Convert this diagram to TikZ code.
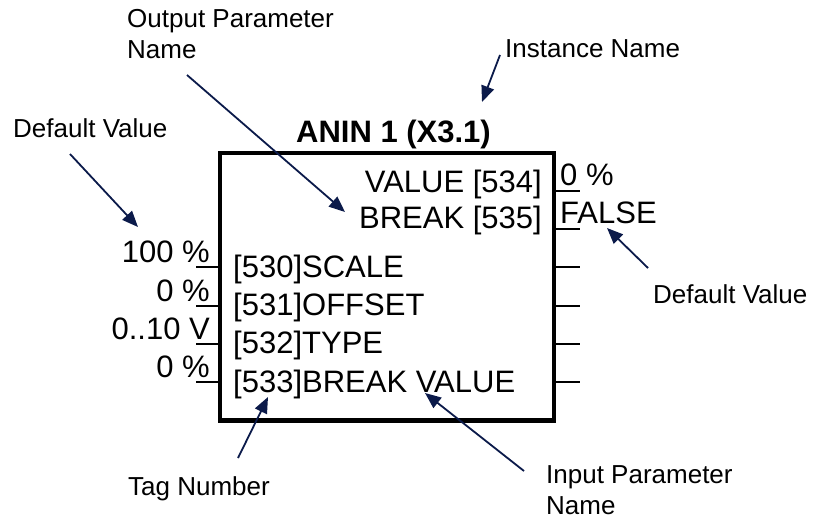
\documentclass[tikz,border=0pt]{standalone}
\usepackage{fontspec}
\setmainfont{Liberation Sans}
\usetikzlibrary{arrows.meta,positioning}
\definecolor{navy}{HTML}{0B1A4A}

\begin{document}
\begin{tikzpicture}[x=1pt,y=-1pt,
  blk/.style={draw,line width=4.5pt,minimum width=334pt,minimum height=267.5pt,inner sep=0pt},
  txt/.style={inner sep=0pt,font=\fontsize{31}{37}\selectfont},
  ttl/.style={inner sep=0pt,font=\fontsize{31}{37}\selectfont\bfseries},
  ann/.style={inner sep=0pt,align=left,font=\fontsize{26}{31}\selectfont},
  pin/.style={line width=1.8pt},
  arr/.style={-{Triangle[length=16pt,width=13pt]},draw=navy,line width=1.8pt}
]
\useasboundingbox (0,0) rectangle (829,519);

% block
\node[blk] (anin) at (387,286.75) {};
\node[ttl,anchor=base] (title) at (393.5,142) {ANIN 1 (X3.1)};
\foreach \y in {267,306,344,382} {
  \draw[pin] (anin.west |- 0,\y) -- ++(-22,0);
  \draw[pin] (anin.east |- 0,\y) -- ++(24,0);
}
\foreach \y in {191,229} \draw[pin] (anin.east |- 0,\y) -- ++(24,0);

% outputs
\node[txt,anchor=base east] (val) at (542,192) {VALUE [534]};
\node[txt,anchor=base east] (brk) at (542,228) {BREAK [535]};
\node[txt,anchor=base west] (dval) at (560,185) {0 \%};
\node[txt,anchor=base west] (dbrk) at (560,223) {FALSE};

% inputs
\node[txt,anchor=base west] (scl) at (233,277) {[530]SCALE};
\node[txt,anchor=base west] (off) at (233,315) {[531]OFFSET};
\node[txt,anchor=base west] (typ) at (233,353) {[532]TYPE};
\node[txt,anchor=base west] (bkv) at (233,392) {[533]BREAK VALUE};
\node[txt,anchor=base east] (dscl) at (210,262) {100 \%};
\node[txt,anchor=base east] (doff) at (210,301) {0 \%};
\node[txt,anchor=base east] (dtyp) at (210,339) {0..10 V};
\node[txt,anchor=base east] (dbkv) at (210,377) {0 \%};

% notes (base = last line)
\node[ann,anchor=base west] (opn) at (127,59) {Output Parameter\\Name};
\node[ann,anchor=base west] (inst) at (505,58) {Instance Name};
\node[ann,anchor=base west] (defl) at (13,137) {Default Value};
\node[ann,anchor=base west] (defr) at (653,303) {Default Value};
\node[ann,anchor=base west] (tag) at (128,495) {Tag Number};
\node[ann,anchor=base west] (ipn) at (546,514) {Input Parameter\\Name};

\coordinate (opnA) at (187,75);   \coordinate (opnB) at (345,212);
\coordinate (defA) at (70,154);   \coordinate (defB) at (138,227);
\coordinate (insA) at (500,55);   \coordinate (insB) at (482,102);
\coordinate (dfrA) at (648,268);  \coordinate (dfrB) at (607,228);
\coordinate (tagA) at (238,458);  \coordinate (tagB) at (268,397);
\coordinate (ipnA) at (524,471);  \coordinate (ipnB) at (425,393);

\draw[arr] (opnA) -- (opnB);
\draw[arr] (defA) -- (defB);
\draw[arr] (insA) -- (insB);
\draw[arr] (dfrA) -- (dfrB);
\draw[arr] (tagA) -- (tagB);
\draw[arr] (ipnA) -- (ipnB);
\end{tikzpicture}
\end{document}
